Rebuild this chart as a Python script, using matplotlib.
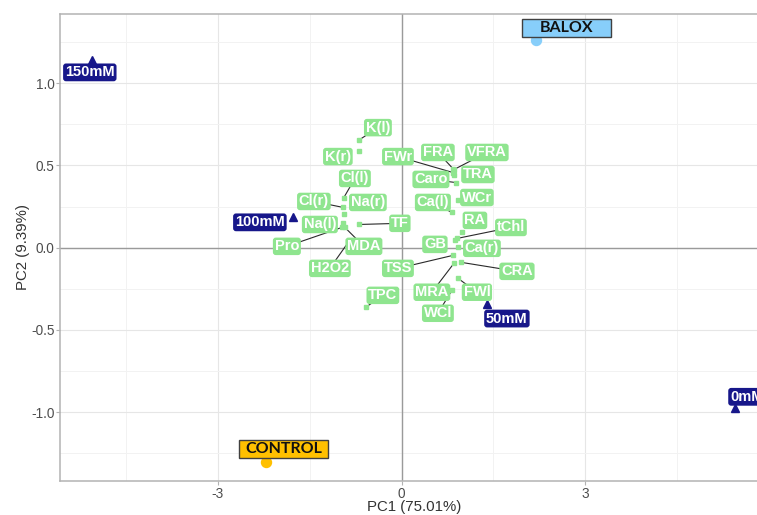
"""
    PCA biplot of salt-stress traits (PC1 vs PC2)
"""

import numpy as np
import matplotlib.pyplot as plt
from matplotlib.patches import Rectangle

plt.rcParams['font.family'] = ['Liberation Sans', 'DejaVu Sans']
plt.rcParams['axes.unicode_minus'] = False

# variable loadings
var_names = ["K(l)", "K(r)", "Cl(l)", "Cl(r)", "Na(r)", "Na(l)", "Pro", "MDA", "H2O2",
             "TF", "TPC", "FRA", "VFRA", "FWr", "TRA", "Caro", "WCr", "Ca(l)", "RA",
             "tChl", "GB", "Ca(r)", "TSS", "CRA", "MRA", "FWl", "WCl"]
var_pc1 = [-0.69, -0.69, -0.943, -0.959, -0.943, -0.959, -0.975, -0.927, -0.861,
           -0.698, -0.583, 0.838, 0.855, 0.838, 0.855, 0.887, 0.920, 0.822, 0.985,
           0.904, 0.871, 0.920, 0.838, 0.969, 0.855, 0.920, 0.822]
var_pc2 = [0.656, 0.589, 0.305, 0.245, 0.202, 0.147, 0.123, 0.123, 0.038,
           0.141, -0.362, 0.481, 0.475, 0.457, 0.439, 0.396, 0.287, 0.214, 0.093,
           0.056, 0.044, 0.002, -0.047, -0.089, -0.095, -0.186, -0.259]

# repelled label positions for the loadings
var_lab_x = [-0.387, -1.041, -0.763, -1.433, -0.551, -1.335, -1.874, -0.616, -1.172,
             -0.028, -0.306, 0.593, 1.394, -0.060, 1.247, 0.479, 1.230, 0.511, 1.198,
             1.786, 0.544, 1.312, -0.060, 1.884, 0.495, 1.230, 0.593]
var_lab_y = [0.730, 0.554, 0.421, 0.281, 0.275, 0.141, 0.008, 0.008, -0.126,
             0.148, -0.290, 0.579, 0.579, 0.554, 0.445, 0.415, 0.305, 0.275, 0.166,
             0.123, 0.020, -0.004, -0.126, -0.144, -0.271, -0.271, -0.399]
no_segment = ["K(r)", "Na(r)", "Na(l)", "TRA", "WCr", "RA", "GB", "Ca(r)"]

# treatment scores
trt_names = ["150mM", "100mM", "50mM", "0mM"]
trt_pc1 = [-5.06, -1.78, 1.40, 5.45]
trt_pc2 = [1.143, 0.186, -0.344, -0.976]
trt_lab_x = [-5.093, -2.315, 1.720, 5.64]
trt_lab_y = [1.066, 0.154, -0.431, -0.907]

# group scores
grp_names = ["BALOX", "CONTROL"]
grp_pc1 = [2.20, -2.21]
grp_pc2 = [1.265, -1.305]
grp_lab_x = [2.688, -1.924]
grp_lab_y = [1.338, -1.226]
grp_colors = ["#87cefa", "#ffc000"]

green = "#8fe58f"
navy = "#17178a"

W, H = 757, 515
fig = plt.figure(figsize=(W/100, H/100), dpi=100)
# panel runs a little past the right edge of the figure
left, right, top, bottom = 60, 768, 14, 481
ax = fig.add_axes([left/W, 1 - bottom/H, (right - left)/W, (bottom - top)/H])
ax.set_xlim(-5.58, 5.985)
ax.set_ylim(-1.419, 1.421)

ax.set_xticks([-3, 0, 3])
ax.set_xticks([-4.5, -1.5, 1.5, 4.5], minor=True)
ax.set_yticks([-1.0, -0.5, 0.0, 0.5, 1.0])
ax.set_yticks([-1.25, -0.75, -0.25, 0.25, 0.75, 1.25], minor=True)
ax.set_yticklabels(["-1.0", "-0.5", "0.0", "0.5", "1.0"])
ax.grid(which='major', color='#e6e6e6', lw=0.8)
ax.grid(which='minor', color='#f2f2f2', lw=0.7)
ax.set_axisbelow(True)
ax.tick_params(which='major', length=3, width=0.8, color='#b3b3b3',
               labelsize=9.8, labelcolor='#4d4d4d', pad=1)
ax.tick_params(which='minor', length=0)
for s in ax.spines.values():
    s.set_color('#b3b3b3')
    s.set_linewidth(1.1)

ax.axhline(0, color='#9a9a9a', lw=1.0, zorder=1)
ax.axvline(0, color='#9a9a9a', lw=1.0, zorder=1)

ax.set_xlabel("PC1 (75.01%)", fontsize=10.8, color='#333333', va='center')
ax.xaxis.set_label_coords(0.5, (bottom - 507.5) / (bottom - top))
ax.set_ylabel("PC2 (9.39%)", fontsize=10.8, color='#333333', labelpad=1)

# loadings: segments, squares, labels
for i in range(len(var_names)):
    if var_names[i] not in no_segment:
        ax.plot([var_pc1[i], var_lab_x[i]], [var_pc2[i], var_lab_y[i]],
                color='#2a2a2a', lw=0.8, zorder=2)
ax.plot(var_pc1, var_pc2, 's', color=green, ms=3.4, zorder=3)
for i in range(len(var_names)):
    ax.text(var_lab_x[i], var_lab_y[i], var_names[i], ha='center', va='center',
            fontsize=10.5, fontweight='bold', color='white', zorder=4,
            bbox=dict(boxstyle='round,pad=0.12,rounding_size=0.2', fc=green, ec='none'))

# treatments
ax.plot(trt_pc1, trt_pc2, '^', color=navy, ms=5.5, zorder=3)
for i in range(len(trt_names)):
    ax.text(trt_lab_x[i], trt_lab_y[i], trt_names[i], ha='center', va='center',
            fontsize=10.5, fontweight='bold', color='white', zorder=4, clip_on=False,
            bbox=dict(boxstyle='round,pad=0.13,rounding_size=0.2', fc=navy, ec='none'))

# groups with boxed captions
px_x = ax.bbox.width / np.diff(ax.get_xlim())[0]
px_y = ax.bbox.height / np.diff(ax.get_ylim())[0]
box_w, box_h = 89 / px_x, 18 / px_y
for i in range(len(grp_names)):
    ax.plot(grp_pc1[i], grp_pc2[i], 'o', color=grp_colors[i], ms=7.2, zorder=3)
    ax.add_patch(Rectangle((grp_lab_x[i] - box_w/2, grp_lab_y[i] - box_h/2), box_w, box_h,
                           fc=grp_colors[i], ec='#404040', lw=1.0, zorder=4))
    ax.text(grp_lab_x[i], grp_lab_y[i], grp_names[i], ha='center', va='center',
            fontsize=11.5, fontweight='bold', family='Lato', color='#111111', zorder=5)

fig.savefig("out.png", dpi=100)
